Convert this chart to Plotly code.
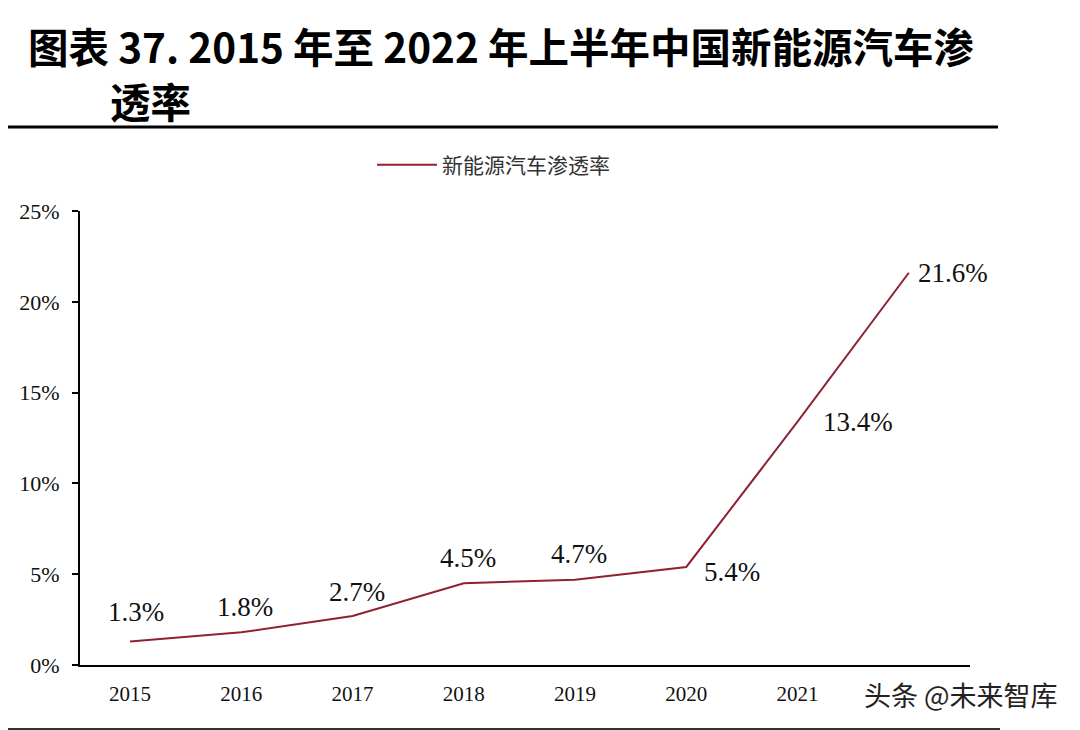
import plotly.graph_objects as go

categories = ["2015", "2016", "2017", "2018", "2019", "2020", "2021", "2022H1"]
tick_labels = ["2015", "2016", "2017", "2018", "2019", "2020", "2021", ""]
penetration = [1.3, 1.8, 2.7, 4.5, 4.7, 5.4, 13.4, 21.6]
label_text = ["1.3%", "1.8%", "2.7%", "4.5%", "4.7%", "5.4%", "13.4%", "21.6%"]
# label offsets (px) relative to the point
label_dx = [6, 4, 4, 4, 4, 46, 60, 44]
label_dy = [29, 25, 24, 25, 26, -5, 0, 0]

series_name = "新能源汽车渗透率"
line_color = "#8E2233"
serif = "Liberation Serif, Times New Roman, serif"
cjk = "Noto Sans CJK SC"

# page has an 8px body offset; plot area: x 80..970, y 211..665 on screen
L, T = 72, 203
PW, PH = 890, 454

def px_x(px):
    return (px - 80) / PW

def px_y(py):
    return (665 - py) / PH

fig = go.Figure()
fig.add_trace(go.Scatter(
    x=list(range(len(categories))), y=penetration, mode="lines",
    name=series_name, line=dict(color=line_color, width=2),
    hoverinfo="skip",
))

annotations = []
for i, (v, t) in enumerate(zip(penetration, label_text)):
    annotations.append(dict(
        x=i, y=v, xref="x", yref="y", text=t, showarrow=False,
        xshift=label_dx[i], yshift=label_dy[i],
        font=dict(family=serif, size=27, color="#111111"),
    ))

# title
annotations.append(dict(
    x=px_x(26), y=px_y(45), xref="paper", yref="paper",
    xanchor="left", yanchor="middle", showarrow=False,
    text="<b>图表 37. 2015 年至 2022 年上半年中国新能源汽车渗</b>",
    font=dict(family=cjk, size=40.5, color="#000000"),
))
annotations.append(dict(
    x=px_x(108), y=px_y(100), xref="paper", yref="paper",
    xanchor="left", yanchor="middle", showarrow=False,
    text="<b>透率</b>",
    font=dict(family=cjk, size=40.5, color="#000000"),
))
# watermark
annotations.append(dict(
    x=px_x(1060), y=px_y(694), xref="paper", yref="paper",
    xanchor="right", yanchor="middle", showarrow=False,
    text="头条 @未来智库",
    font=dict(family=cjk, size=27, color="#222222"),
))

fig.update_layout(
    width=1080, height=730,
    margin=dict(l=L, r=1080 - L - PW, t=T, b=730 - T - PH),
    paper_bgcolor="white", plot_bgcolor="white",
    showlegend=True,
    legend=dict(
        x=px_x(372), y=1 + (211 - 165) / PH, xanchor="left", yanchor="middle",
        orientation="h", font=dict(family=cjk, size=21, color="#333333"),
        bgcolor="rgba(0,0,0,0)", itemwidth=60,
    ),
    annotations=annotations,
    shapes=[
        dict(type="line", xref="paper", yref="paper",
             x0=px_x(0), x1=px_x(998),
             y0=px_y(127), y1=px_y(127),
             line=dict(color="#000000", width=3)),
        dict(type="line", xref="paper", yref="paper",
             x0=px_x(0), x1=px_x(1000),
             y0=px_y(729), y1=px_y(729),
             line=dict(color="#333333", width=2)),
    ],
)

fig.update_xaxes(
    range=[-0.45, 7.55], tickmode="array",
    tickvals=list(range(len(categories))), ticktext=tick_labels,
    showline=True, linecolor="#000000", linewidth=2,
    ticks="", showgrid=False, zeroline=False,
    tickfont=dict(family=serif, size=21, color="#111111"),
    ticklabelstandoff=9,
)
fig.update_yaxes(
    range=[0, 25], tickvals=[0, 5, 10, 15, 20, 25],
    ticktext=["0%", "5%", "10%", "15%", "20%", "25%"],
    showline=True, linecolor="#000000", linewidth=2,
    ticks="outside", ticklen=6, tickcolor="#000000", tickwidth=2,
    showgrid=False, zeroline=False,
    tickfont=dict(family=serif, size=22, color="#111111"),
    ticklabelstandoff=8,
)

fig.write_html("out.html")
